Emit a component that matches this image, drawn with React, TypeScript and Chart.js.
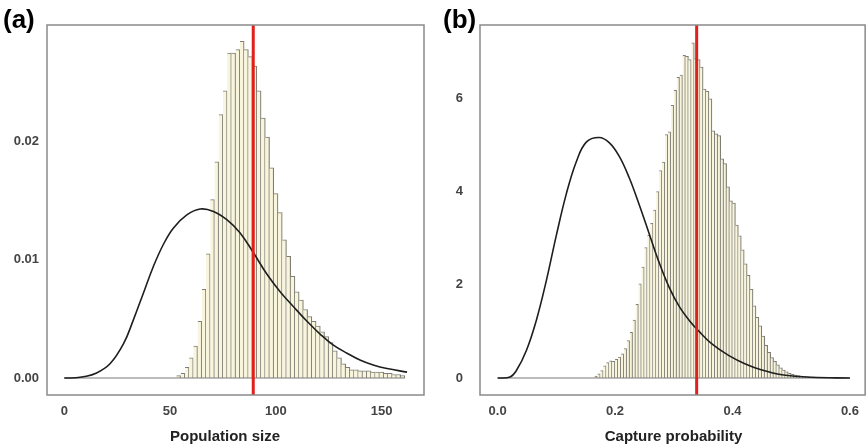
import React, { useEffect, useRef } from "react";
import { Chart, registerables } from "chart.js";

Chart.register(...registerables);
Chart.defaults.font.family = "'Liberation Sans', Arial, sans-serif";

// ---------- Panel (a): Population size ----------
const popBinStart = 53;
const popBinWidth = 2;
const popDensity = [
  0.0002, 0.0004, 0.0009, 0.0017, 0.0027, 0.0048, 0.0075, 0.0105, 0.0151, 0.0183,
  0.0223, 0.0243, 0.0275, 0.0275, 0.0278, 0.0285, 0.0278, 0.0272, 0.0264, 0.0243,
  0.0220, 0.0204, 0.0178, 0.0156, 0.0140, 0.0117, 0.0103, 0.0086, 0.0073, 0.0066,
  0.0058, 0.0052, 0.0048, 0.0044, 0.0039, 0.0035, 0.0030, 0.0023, 0.0017, 0.0012,
  0.0009, 0.0007, 0.0007, 0.0006, 0.0006, 0.0006, 0.0005, 0.0005, 0.0005, 0.0004,
  0.0004, 0.0003, 0.0003, 0.0002,
];
const popPriorX = [0, 5, 9, 15, 21.6, 28, 32.6, 37.4, 42, 46.8, 51.6, 57.9, 64.2, 70.5, 76.8, 83, 89.4, 95.7, 102, 108, 114.7, 121, 127, 133.6, 140, 146, 152.5, 162];
const popPriorY = [0, 0.00002, 0.0001, 0.0004, 0.0012, 0.0029, 0.0049, 0.0072, 0.0094, 0.0113, 0.0127, 0.0138, 0.0143, 0.0141, 0.0134, 0.0123, 0.0106, 0.0088, 0.0073, 0.0061, 0.0048, 0.0037, 0.0028, 0.0021, 0.0015, 0.0011, 0.0008, 0.0005];
const popTrue = 89.3;
const popRange = [0, 161];
const popXTicks = [0, 50, 100, 150];
const popYTicks = [0, 0.01, 0.02];

// ---------- Panel (b): Capture probability ----------
const capBinStart = 0.165;
const capBinWidth = 0.005;
const capDensity = [
  0.04, 0.09, 0.16, 0.26, 0.33, 0.37, 0.36, 0.40, 0.45, 0.52,
  0.63, 0.80, 0.98, 1.24, 1.58, 2.02, 2.38, 2.80, 3.06, 3.32,
  3.60, 4.00, 4.45, 4.63, 5.22, 5.28, 5.85, 6.17, 6.45, 6.50,
  6.92, 6.90, 6.83, 7.19, 6.85, 6.83, 6.67, 6.20, 6.15, 5.99,
  5.30, 5.24, 5.20, 4.70, 4.60, 4.10, 3.80, 3.75, 3.28, 3.05,
  2.75, 2.45, 2.20, 1.90, 1.55, 1.30, 1.12, 0.90, 0.70, 0.55,
  0.44, 0.36, 0.28, 0.22, 0.17, 0.13, 0.10, 0.08, 0.06, 0.05,
  0.04, 0.03, 0.025, 0.02, 0.015, 0.01,
];
const capPriorX = [0, 0.021, 0.032, 0.049, 0.066, 0.083, 0.1, 0.117, 0.134, 0.151, 0.173, 0.19, 0.207, 0.224, 0.241, 0.258, 0.275, 0.292, 0.309, 0.326, 0.343, 0.366, 0.394, 0.422, 0.45, 0.484, 0.535, 0.6];
const capPriorY = [0, 0.02, 0.16, 0.59, 1.24, 2.09, 3.06, 3.95, 4.64, 5.06, 5.16, 5.05, 4.76, 4.30, 3.72, 3.10, 2.48, 1.95, 1.54, 1.24, 1.00, 0.72, 0.48, 0.30, 0.17, 0.07, 0.015, 0];
const capTrue = 0.339;
const capRange = [0, 0.6];
const capXTicks = [0, 0.2, 0.4, 0.6];
const capYTicks = [0, 2, 4, 6];

const W = 434;
const H = 448;

const panels = [
  {
    label: "(a)", labelX: 3, title: "Population size", titleX: 225,
    binStart: popBinStart, binWidth: popBinWidth, density: popDensity,
    priorX: popPriorX, priorY: popPriorY, trueValue: popTrue, range: popRange,
    xTicks: popXTicks, yTicks: popYTicks,
    xFmt: (v: number) => String(v), yFmt: (v: number) => v.toFixed(2),
    xMin: -8.18, xMax: 170.0, yMin: -0.001439, yMax: 0.02988,
    axisWidth: 47, rightPad: 10, yPad: 8, left: 0,
  },
  {
    label: "(b)", labelX: 9, title: "Capture probability", titleX: 239.5,
    binStart: capBinStart, binWidth: capBinWidth, density: capDensity,
    priorX: capPriorX, priorY: capPriorY, trueValue: capTrue, range: capRange,
    xTicks: capXTicks, yTicks: capYTicks,
    xFmt: (v: number) => v.toFixed(1), yFmt: (v: number) => String(v),
    xMin: -0.03, xMax: 0.6259, yMin: -0.3647, yMax: 7.572,
    axisWidth: 46, rightPad: 1, yPad: 17, left: 434,
  },
];

const framePlugin = {
  id: "frame",
  afterDraw(chart: any, _args: any, opts: any) {
    const { ctx, chartArea: a } = chart;
    ctx.save();
    ctx.strokeStyle = "#8a8a8a";
    ctx.lineWidth = 1.5;
    ctx.strokeRect(a.left, a.top, a.right - a.left, a.bottom - a.top);
    ctx.fillStyle = "#000";
    ctx.font = "bold 26px 'Liberation Sans', Arial, sans-serif";
    ctx.textBaseline = "alphabetic";
    ctx.textAlign = "left";
    ctx.fillText(opts.label, opts.labelX, 28);
    ctx.fillStyle = "#222";
    ctx.font = "bold 15px 'Liberation Sans', Arial, sans-serif";
    ctx.textAlign = "center";
    ctx.textBaseline = "middle";
    ctx.fillText(opts.title, opts.titleX, 437);
    ctx.restore();
  },
};

function Panel({ spec }: { spec: any }) {
  const ref = useRef<HTMLCanvasElement>(null);
  useEffect(() => {
    const bars = spec.density.map((d: number, i: number) => ({
      x: spec.binStart + spec.binWidth * (i + 0.5),
      y: d,
    }));
    const prior = spec.priorX.map((x: number, i: number) => ({ x, y: spec.priorY[i] }));
    const baseline = spec.range.map((x: number) => ({ x, y: 0 }));
    const trueLine = [
      { x: spec.trueValue, y: spec.yMin },
      { x: spec.trueValue, y: spec.yMax },
    ];
    const tickFont = { size: 13, weight: "bold" as const };
    const chart = new Chart(ref.current as HTMLCanvasElement, {
      type: "bar",
      data: {
        datasets: [
          {
            type: "line",
            data: trueLine,
            borderColor: "#e0201c",
            borderWidth: 3,
            pointRadius: 0,
            order: 0,
          } as any,
          {
            type: "line",
            data: prior,
            borderColor: "#1e1e1e",
            borderWidth: 1.6,
            pointRadius: 0,
            tension: 0.4,
            order: 1,
          } as any,
          {
            type: "line",
            data: baseline,
            borderColor: "#7a7a7a",
            borderWidth: 1.2,
            pointRadius: 0,
            order: 2,
          } as any,
          {
            type: "bar",
            data: bars,
            backgroundColor: "#f8f5dc",
            borderColor: "#7e7e76",
            borderWidth: { top: 1, right: 1.2, left: 0, bottom: 0 },
            borderSkipped: false,
            barPercentage: 1,
            categoryPercentage: 1,
            order: 3,
          } as any,
        ],
      },
      options: {
        responsive: false,
        animation: false,
        events: [],
        layout: { padding: { top: 25, right: spec.rightPad, left: 0, bottom: 0 } },
        plugins: {
          legend: { display: false },
          tooltip: { enabled: false },
          frame: { label: spec.label, labelX: spec.labelX, title: spec.title, titleX: spec.titleX },
        } as any,
        scales: {
          x: {
            type: "linear",
            offset: false,
            min: spec.xMin,
            max: spec.xMax,
            grid: { display: false, drawTicks: false },
            border: { display: false },
            afterBuildTicks: (s: any) => {
              s.ticks = spec.xTicks.map((v: number) => ({ value: v }));
            },
            afterFit: (s: any) => {
              s.height = 53;
            },
            ticks: {
              autoSkip: false,
              maxRotation: 0,
              padding: 9,
              color: "#444",
              font: tickFont,
              callback: (v: any) => spec.xFmt(Number(v)),
            },
          },
          y: {
            type: "linear",
            min: spec.yMin,
            max: spec.yMax,
            grid: { display: false, drawTicks: false },
            border: { display: false },
            afterBuildTicks: (s: any) => {
              s.ticks = spec.yTicks.map((v: number) => ({ value: v }));
            },
            afterFit: (s: any) => {
              s.width = spec.axisWidth;
            },
            ticks: {
              autoSkip: false,
              padding: spec.yPad,
              color: "#444",
              font: tickFont,
              callback: (v: any) => spec.yFmt(Number(v)),
            },
          },
        },
      },
      plugins: [framePlugin],
    });
    return () => chart.destroy();
  }, [spec]);
  return (
    <canvas
      ref={ref}
      width={W}
      height={H}
      style={{ position: "absolute", left: spec.left, top: 0, width: W, height: H }}
    />
  );
}

export default function App() {
  return (
    <div style={{ position: "fixed", left: 0, top: 0, width: 868, height: 448, background: "#fff", overflow: "hidden" }}>
      {panels.map((p) => (
        <Panel key={p.label} spec={p} />
      ))}
    </div>
  );
}
